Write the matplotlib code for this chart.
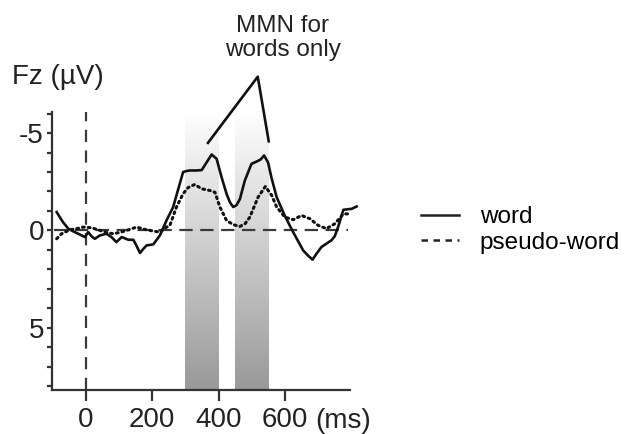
import numpy as np
import matplotlib.pyplot as plt
from matplotlib.lines import Line2D

plt.rcParams['font.family'] = ['Liberation Sans', 'DejaVu Sans']

# ERP at Fz, time in ms, amplitude in microvolts (negative up)
t_word = [-88, -70, -53, -38, -23, -3, 7, 17, 27, 42, 62, 77, 92, 108, 128, 143,
          153, 163, 173, 183, 203, 223, 243, 263, 283, 293, 303, 313, 333, 349,
          364, 379, 394, 409, 424, 434, 444, 454, 464, 479, 499, 516, 527, 537,
          549, 559, 575, 599, 625, 655, 670, 683, 695, 710, 725, 740, 750, 760,
          776, 801, 816]
v_word = [-0.94, -0.45, -0.09, 0.05, 0.17, 0.34, 0.09, 0.3, 0.43, 0.26, 0.17, 0.34,
          0.6, 0.34, 0.48, 0.48, 0.8, 1.16, 0.95, 0.77, 0.72, 0.26, -0.51, -1.2,
          -2.4, -3.0, -3.05, -3.08, -3.08, -3.1, -3.5, -3.9, -3.68, -2.73, -1.88,
          -1.45, -1.2, -1.3, -1.6, -2.56, -3.42, -3.55, -3.65, -3.85, -3.5, -2.73,
          -1.71, -0.77, 0.1, 1.03, 1.3, 1.5, 1.2, 0.85, 0.68, 0.51, 0.3, -0.17,
          -1.06, -1.11, -1.23]

t_pseudo = [-88, -73, -48, -25, -8, 17, 42, 62, 82, 103, 123, 153, 183, 223, 243,
            253, 273, 293, 308, 328, 349, 374, 389, 404, 424, 444, 464, 480, 494,
            519, 541, 560, 575, 600, 625, 650, 675, 700, 725, 750, 776, 796]
v_pseudo = [0.43, 0.17, -0.03, -0.1, -0.17, -0.14, 0.0, 0.1, 0.17, 0.1, 0.0, -0.17,
            -0.03, 0.09, -0.17, -0.25, -1.2, -1.88, -2.2, -2.36, -2.14, -2.05, -1.96,
            -1.2, -0.51, -0.3, -0.2, -0.35, -0.68, -1.71, -2.26, -1.8, -1.2, -0.68,
            -0.55, -0.77, -0.6, -0.26, -0.09, -0.34, -0.85, -0.85]

# MMN windows (ms)
windows = [(300, 400), (450, 550)]
# bracket over the two windows
bracket_t = [368, 518, 551]
bracket_v = [-4.5, -7.9, -4.58]

xmin, xmax = -103, 796
ytop, ybot = -6.1, 8.2

fig = plt.figure(figsize=(6.32, 4.34), dpi=100)
ax = fig.add_axes([0.0818, 0.1014, 0.4720, 0.6412])

# shaded windows, white at top fading to grey at the bottom
shade = np.linspace(1.0, 0.6, 256)[:, None] * np.ones((1, 2))
for a, b in windows:
    ax.imshow(np.dstack([shade] * 3), extent=(a, b, ybot, ytop), origin='upper',
              aspect='auto', interpolation='bilinear', zorder=0)

ax.axvline(0, color='#3a3a3a', lw=1.6, ls=(0, (5.5, 3.8)), zorder=1)
ax.hlines(0, -95, 790, color='#3a3a3a', lw=1.6, ls=(0, (6, 3.4)), zorder=1)

ax.plot(t_pseudo, v_pseudo, color='#111111', lw=2.2, ls=(0, (0.6, 1.3)),
        dash_capstyle='round', clip_on=False, zorder=3)
ax.plot(t_word, v_word, color='#111111', lw=1.9, clip_on=False, zorder=4)
ax.plot(bracket_t, bracket_v, color='#111111', lw=1.9, clip_on=False, zorder=4)

ax.set_xlim(xmin, xmax)
ax.set_ylim(ybot, ytop)

for s in ['top', 'right']:
    ax.spines[s].set_visible(False)
for s in ['left', 'bottom']:
    ax.spines[s].set_linewidth(1.6)
    ax.spines[s].set_color('#333333')

ax.set_xticks([0, 200, 400, 600])
ax.set_xticklabels(['0', '200', '400', '600'])
ax.set_yticks([-5, 0, 5])
ax.set_yticklabels(['-5', '0', '5'])
ax.set_yticks(range(-6, 9), minor=True)
ax.tick_params(axis='x', length=8, width=1.6, color='#333333', labelsize=20,
               labelcolor='#222222', pad=4.6)
ax.tick_params(axis='y', which='both', length=3.6, width=1.6, color='#333333',
               labelsize=20, labelcolor='#222222', pad=2)

fig.text(315 / 632, 1 - 427.5 / 434, '(ms)', fontsize=20, color='#222222',
         ha='left', va='baseline')
fig.text(12 / 632, 1 - 77 / 434, 'Fz (µV)', fontsize=20, color='#222222',
         ha='left', va='center')
fig.text(283 / 632, 1 - 38 / 434, 'MMN for\nwords only', fontsize=17.5,
         color='#222222', ha='center', va='center', linespacing=1.1)

handles = [Line2D([], [], color='#222222', lw=1.8),
           Line2D([], [], color='#222222', lw=1.8, ls=(0, (2.6, 2.2)))]
fig.legend(handles, ['word', 'pseudo-word'], loc='center left',
           bbox_to_anchor=(421 / 632, 1 - 230 / 434), frameon=False,
           fontsize=17.5, handlelength=1.56, handletextpad=0.85,
           labelspacing=0.15, borderpad=0, borderaxespad=0)

fig.savefig('out.png', dpi=100)
